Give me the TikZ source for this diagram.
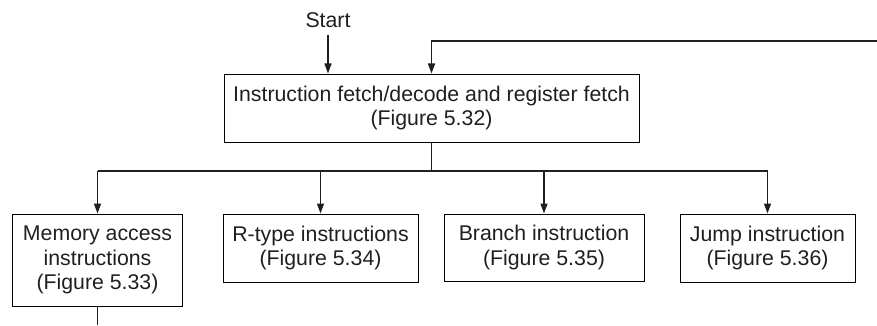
\documentclass[tikz,border=0pt]{standalone}
\usepackage{fontspec}
\setmainfont{Liberation Sans}
\usetikzlibrary{arrows.meta}
\begin{document}
\begin{tikzpicture}[x=1bp,y=1bp,
  lbl/.style={font=\fontsize{21.3bp}{24.5bp}\selectfont, text=black!88},
  box/.style={lbl, draw, line width=1bp, inner sep=0pt, align=center},
  conn/.style={line width=1.5bp, draw=black!88},
  arr/.style={conn, -{Triangle[length=10bp,width=7bp]}}
]
\useasboundingbox (0,0) rectangle (877,325);
\node[box, minimum width=415bp, minimum height=68bp] (top) at (431.5,217)
  {Instruction fetch/decode and register fetch\\(Figure 5.32)};
\node[box, minimum width=169bp, minimum height=92bp] (mem) at (97.5,65)
  {Memory access\\instructions\\(Figure 5.33)};
\node[box, minimum width=195bp, minimum height=68bp] (rt) at (320.5,77)
  {R-type instructions\\(Figure 5.34)};
\node[box, minimum width=200bp, minimum height=67bp] (br) at (544,77.5)
  {Branch instruction\\(Figure 5.35)};
\node[box, minimum width=175bp, minimum height=68bp] (jp) at (767.5,77)
  {Jump instruction\\(Figure 5.36)};
\node[lbl, inner sep=0pt] (start) at (328,305) {Start};
\coordinate (loopin) at (877,284);
\coordinate (split) at (top.south |- 0,154);
\coordinate (memout) at (mem.south |- 0,0);

\draw[arr] (start.south) ++(0,-7) -- (start.south |- top.north);
\draw[arr] (loopin) -- (top.north |- loopin) -- (top.north);
\draw[conn] (top.south) -- (split);
\draw[conn] (mem.north |- split) -- (jp.north |- split);
\draw[arr] (mem.north |- split) -- (mem.north);
\draw[arr] (rt.north |- split) -- (rt.north);
\draw[arr] (br.north |- split) -- (br.north);
\draw[arr] (jp.north |- split) -- (jp.north);
\draw[conn] (mem.south) -- (memout);
\end{tikzpicture}
\end{document}
